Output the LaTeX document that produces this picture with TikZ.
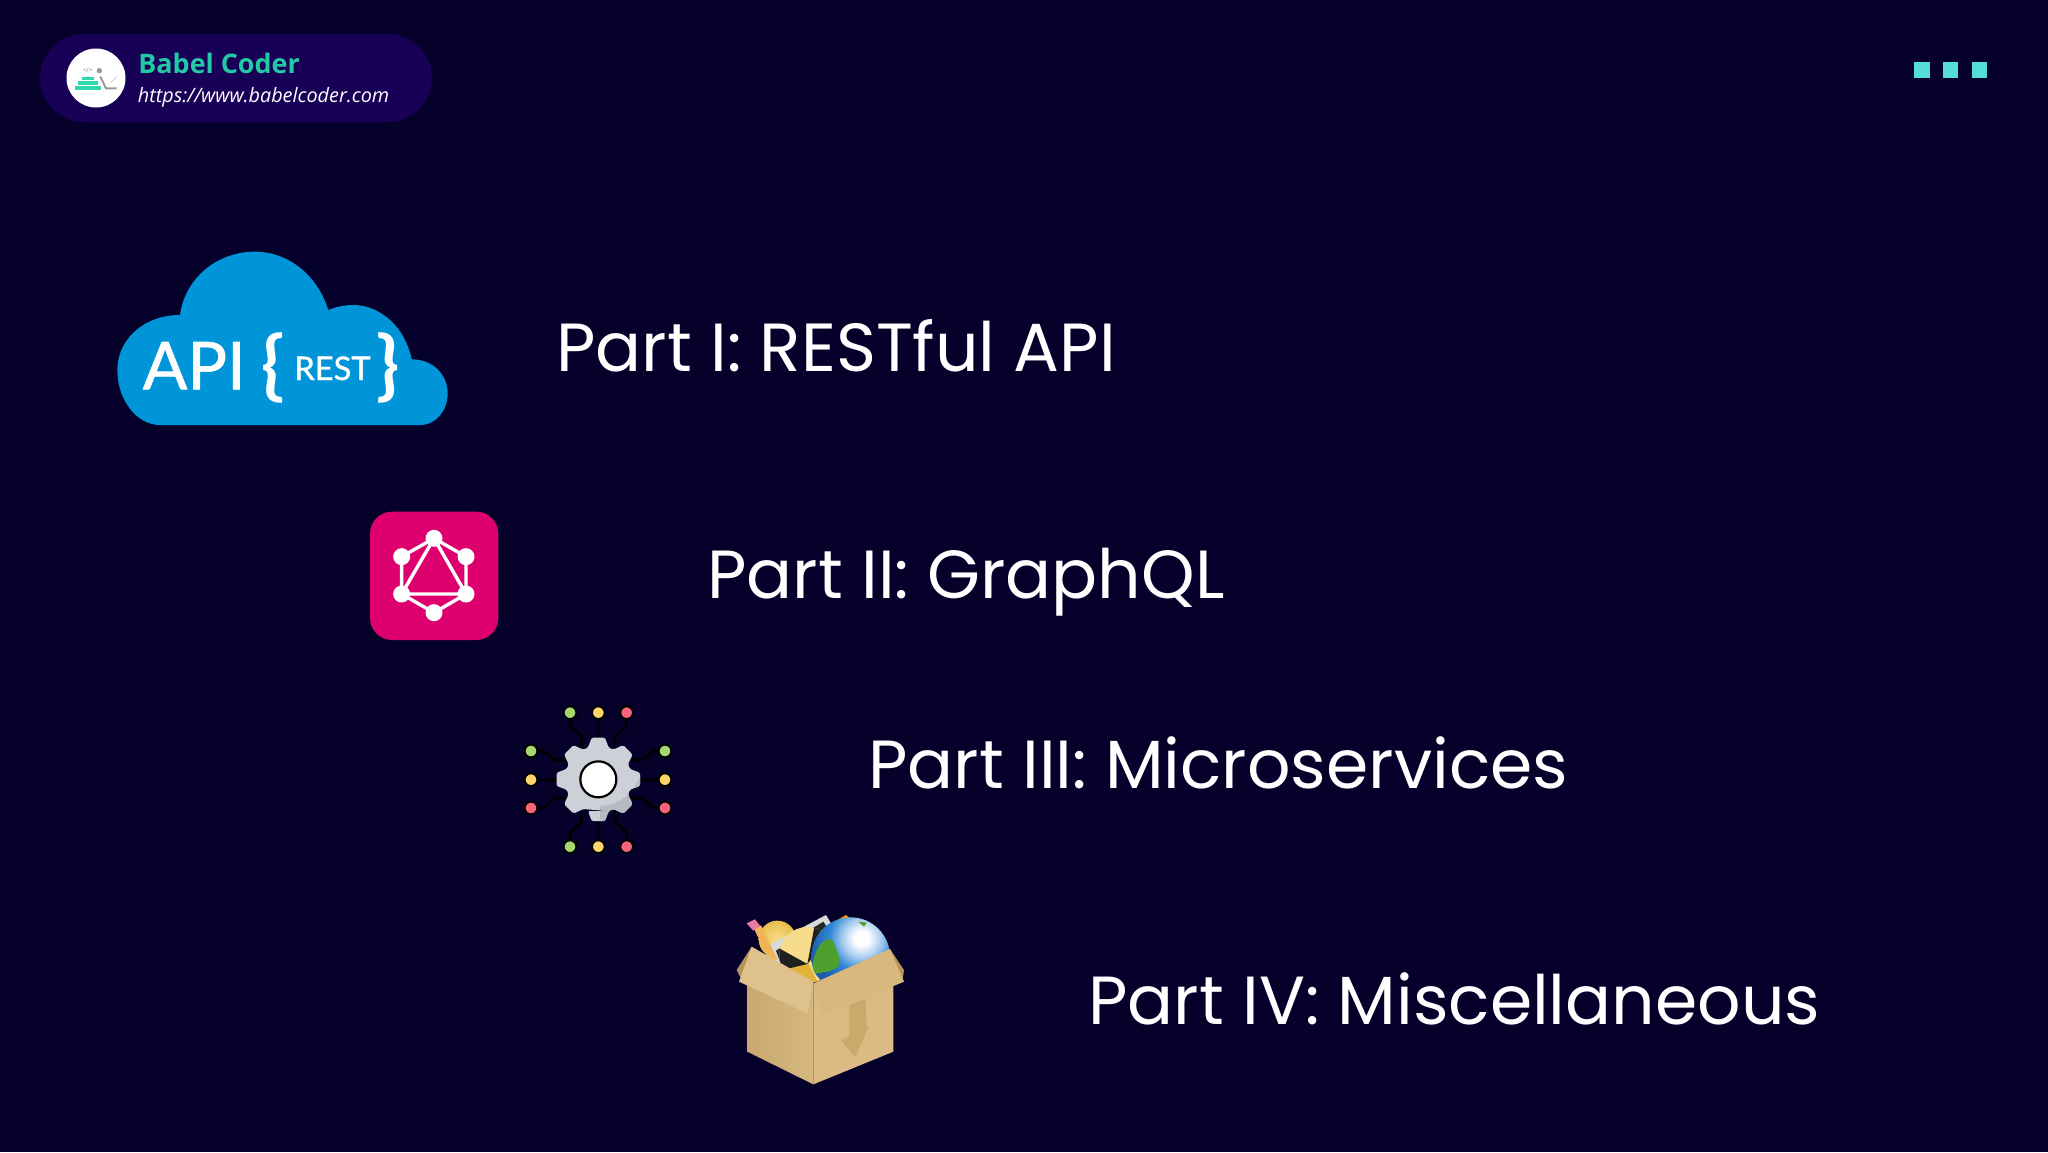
\documentclass[tikz,border=0pt]{standalone}
\usepackage{fontspec}
\newfontfamily\popf{Poppins}
\newfontfamily\osf{Open Sans}
\newfontfamily\latf[FakeBold=1.0]{Lato}
\newfontfamily\latb{Lato}
\definecolor{bgc}{HTML}{05012B}
\definecolor{pillc}{HTML}{190057}
\definecolor{tealc}{HTML}{22C9A5}
\definecolor{stepc}{HTML}{2FD6AE}
\definecolor{dotc}{HTML}{55DCDC}
\definecolor{cloudc}{HTML}{0095D9}
\definecolor{gqlc}{HTML}{DE006E}
\definecolor{gearc}{HTML}{CDD0D6}
\definecolor{geard}{HTML}{B7BAC1}
\definecolor{gc}{HTML}{A6D66F}
\definecolor{yc}{HTML}{FDD56B}
\definecolor{rc}{HTML}{F8647B}
\definecolor{boxl}{HTML}{C9A96F}
\definecolor{boxll}{HTML}{D6B77E}
\definecolor{boxr}{HTML}{DBBB83}
\definecolor{flapl}{HTML}{DFC28B}
\definecolor{flapr}{HTML}{D8B87D}
\definecolor{boxb}{HTML}{B3935A}
\definecolor{arrc}{HTML}{C9AA6C}
\definecolor{sunc}{HTML}{F6DC8C}
\definecolor{goldc}{HTML}{E2B23A}
\definecolor{hemi}{HTML}{E9BE4A}
\definecolor{penc}{HTML}{EFB457}
\definecolor{pinkc}{HTML}{E77AA0}
\definecolor{landc}{HTML}{4F9F2E}
\definecolor{globem}{HTML}{2F86D6}
\definecolor{globed}{HTML}{1B5CAE}
\pgfdeclareradialshading{globeshade}{\pgfpoint{0bp}{0bp}}{
  color(0bp)=(white); color(3bp)=(white); color(8bp)=(globem!40!white);
  color(14bp)=(globem); color(22bp)=(globed); color(50bp)=(globed)}
\tikzset{
  parttext/.style={anchor=base west,inner sep=0pt,text=white,font=\popf\fontsize{34.05}{40}\selectfont},
  gqlv/.style={circle,fill=white,minimum size=8.5pt,inner sep=0pt},
  gqle/.style={draw=white,line width=1.7pt},
  wire/.style={draw=black,line width=1.4pt,line join=round},
  leaf/.style={circle,draw=black,line width=1pt,minimum size=6.4pt,inner sep=0pt},
  squaredot/.style={fill=dotc},
}
\begin{document}
\begin{tikzpicture}[x=0.5pt,y=-0.5pt]
\useasboundingbox (0,0) rectangle (2048,1152);
\fill[bgc] (0,0) rectangle (2048,1152);
% header
\fill[pillc,rounded corners=22pt] (40,34) rectangle (432,122);
\node[circle,fill=white,minimum size=29.5pt,inner sep=0pt] (logo) at (96,78) {};
\begin{scope}[shift={(20,20)},scale=1/3]
  \fill[stepc] (165,197) rectangle (243,210);
  \fill[stepc] (175,183) rectangle (233,195);
  \fill[stepc] (186,170) rectangle (222,181);
  \fill[gray!80] (238,152) circle (8);
  \draw[gray!80,line width=1pt] (241,170) -- (258,205) -- (290,205);
  \draw[gray!45,line width=0.3pt] (272,188) -- (290,170);
  \node[inner sep=0pt,text=gray,font=\osf\fontsize{3.2}{4}\selectfont] (code) at (203,152) {</>};
\end{scope}
\node[anchor=base west,inner sep=0pt,text=tealc,font=\osf\bfseries\fontsize{13.45}{17}\selectfont] (brand) at (138,73) {Babel Coder};
\node[anchor=base west,inner sep=0pt,text=white,font=\osf\itshape\fontsize{9.9}{13}\selectfont] (url) at (137.5,102) {https://www.babelcoder.com};
\fill[squaredot] (1914.3,62.3) rectangle (1930,78);
\fill[squaredot] (1943.3,62.3) rectangle (1958.3,78);
\fill[squaredot] (1971.7,62.3) rectangle (1987,78);
% cloud
\begin{scope}[shift={(100,230)},scale=1/3]
  \fill[cloudc] (180,585) -- (960,585) .. controls (1010,585) and (1043,540) .. (1043,490)
    .. controls (1043,435) and (1000,388) .. (935,388)
    .. controls (915,290) and (840,225) .. (760,225)
    .. controls (735,225) and (708,230) .. (685,240)
    .. controls (650,130) and (560,65) .. (465,65)
    .. controls (350,65) and (255,145) .. (240,255)
    .. controls (130,255) and (52,330) .. (52,420)
    .. controls (52,510) and (110,585) .. (180,585) -- cycle;
  \node[anchor=base west,inner sep=0pt,text=white,font=\latf\fontsize{33}{36}\selectfont] (api) at (127,478) {API};
  \node[anchor=base west,inner sep=0pt,text=white,font=\latf\fontsize{16.3}{20}\selectfont] (rest) at (582,450) {REST};
  \node[inner sep=0pt,text=white,font=\latb\bfseries\fontsize{38}{40}\selectfont] (lb) at (520,415) {\{};
  \node[inner sep=0pt,text=white,font=\latb\bfseries\fontsize{38}{40}\selectfont] (rb) at (865,415) {\}};
\end{scope}
% graphql
\begin{scope}[shift={(350,490)},scale=1/3]
  \fill[gqlc,rounded corners=11pt] (60,65) rectangle (445,450);
  \node[gqlv] (v1) at (252,145) {};
  \node[gqlv] (v2) at (155,200) {};
  \node[gqlv] (v3) at (155,312) {};
  \node[gqlv] (v4) at (252,368) {};
  \node[gqlv] (v5) at (348,312) {};
  \node[gqlv] (v6) at (348,200) {};
  \draw[gqle] (v1.center) -- (v2.center) -- (v3.center) -- (v4.center) -- (v5.center) -- (v6.center) -- (v1.center) -- (v3.center) -- (v5.center) -- (v1.center);
\end{scope}
% gear
\begin{scope}[shift={(510,690)},scale=1/3]
  \node[leaf,fill=gc] (t1) at (180,68) {};
  \node[leaf,fill=yc] (t2) at (265,68) {};
  \node[leaf,fill=rc] (t3) at (350,68) {};
  \node[leaf,fill=gc] (l1) at (63,183) {};
  \node[leaf,fill=yc] (l2) at (63,269) {};
  \node[leaf,fill=rc] (l3) at (63,354) {};
  \node[leaf,fill=gc] (r1) at (465,183) {};
  \node[leaf,fill=yc] (r2) at (465,269) {};
  \node[leaf,fill=rc] (r3) at (465,354) {};
  \node[leaf,fill=gc] (b1) at (180,470) {};
  \node[leaf,fill=yc] (b2) at (265,470) {};
  \node[leaf,fill=rc] (b3) at (350,470) {};
  \draw[wire] (t1) -- (180,105) -- (215,140) -- (215,170);
  \draw[wire] (t2) -- (265,145);
  \draw[wire] (t3) -- (350,105) -- (315,140) -- (315,170);
  \draw[wire] (l1) -- (100,183) -- (135,210) -- (170,210);
  \draw[wire] (l2) -- (145,269);
  \draw[wire] (l3) -- (100,354) -- (135,325) -- (170,325);
  \draw[wire] (r1) -- (430,183) -- (395,210) -- (360,210);
  \draw[wire] (r2) -- (385,269);
  \draw[wire] (r3) -- (430,354) -- (395,325) -- (360,325);
  \draw[wire] (b1) -- (180,430) -- (215,395) -- (215,365);
  \draw[wire] (b2) -- (265,390);
  \draw[wire] (b3) -- (350,430) -- (315,395) -- (315,365);
  \begin{scope}[shift={(265,268)}]
    \fill[gearc,rounded corners=0.8pt] (90-18:100)
      \foreach \a in {90,45,0,-45,-90,-135,-180,-225}{ -- (\a+18:100) -- (\a+9:127) -- (\a-9:127) -- (\a-18:100) } -- cycle;
    \begin{scope}
      \clip[rounded corners=0.8pt] (90-18:100)
        \foreach \a in {90,45,0,-45,-90,-135,-180,-225}{ -- (\a+18:100) -- (\a+9:127) -- (\a-9:127) -- (\a-18:100) } -- cycle;
      \fill[geard] (130,-23) .. controls (110,42) and (65,77) .. (5,80) -- (5,150) -- (155,150) -- (155,-23) -- cycle;
    \end{scope}
    \node[circle,draw=black,fill=white,line width=1.1pt,minimum size=18pt,inner sep=0pt] (hole) at (0,0) {};
  \end{scope}
\end{scope}
% box
\begin{scope}[shift={(720,900)},scale=1/3]
  % back flaps
  \fill[boxb] (50,210) -- (95,140) -- (110,175) -- (65,240) -- cycle;
  \fill[boxb] (510,147) -- (552,210) -- (548,240) -- (500,180) -- cycle;
  % contents
  \fill[orange!85!yellow] (330,72) -- (378,45) -- (425,85) -- (370,100) -- cycle;
  \shade[inner color=sunc,outer color=hemi] (172,118) circle (56);
  \fill[gray!30] (148,135) -- (318,45) -- (345,90) -- (170,200) -- cycle;
  \fill[black!85] (168,152) -- (310,65) -- (330,95) -- (182,190) -- cycle;
  \begin{scope}
    \clip (262,165) circle (84);
    \fill[sunc] (150,60) rectangle (370,260);
    \fill[goldc] (170,205) -- (265,190) -- (300,260) -- (170,260) -- cycle;
    \fill[black!88] (262,192) -- (165,138) -- (165,215) -- cycle;
    \fill[black!88] (262,192) -- (285,70) -- (345,90) -- cycle;
  \end{scope}
  \fill[penc] (103,88) -- (123,76) -- (172,178) -- (150,188) -- cycle;
  \fill[pinkc] (80,70) -- (105,58) -- (121,78) -- (100,92) -- cycle;
  \begin{scope}
    \clip (392,170) circle (118);
    \shade[shading=globeshade] (425,115) circle (175);
    \fill[landc,rounded corners=3pt] (275,200) -- (285,160) -- (305,125) -- (335,112) -- (350,150) -- (365,190) -- (340,212) -- (300,218) -- (275,225) -- cycle;
    \fill[landc] (415,65) -- (440,68) -- (432,80) -- cycle;
  \end{scope}
  % faces
  \shade[left color=boxl,right color=boxll] (82,250) -- (280,250) -- (280,553) -- (82,455) -- cycle;
  \fill[boxr] (280,250) -- (520,250) -- (520,455) -- (280,553) -- cycle;
  \fill[arrc] (388,315) -- (437,297) -- (440,382) -- (447,378) -- (405,472) -- (362,420) -- (388,408) -- cycle;
  \fill[flapl] (57,245) -- (95,140) -- (280,245) -- (262,340) -- cycle;
  \fill[flapr] (280,250) -- (510,147) -- (552,245) -- (305,347) -- cycle;
\end{scope}
% titles
\node[parttext] (p1) at (556,371) {Part I: RESTful API};
\node[parttext] (p2) at (707,598) {Part II: GraphQL};
\node[parttext] (p3) at (868,788) {Part III: Microservices};
\node[parttext] (p4) at (1088,1024) {Part IV: Miscellaneous};
\end{tikzpicture}
\end{document}
